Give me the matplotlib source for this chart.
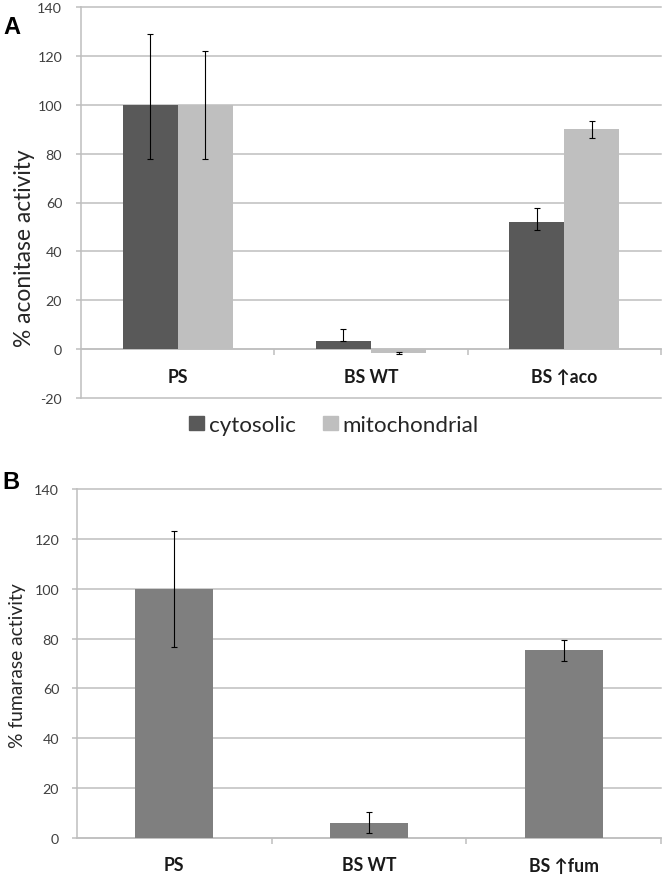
import matplotlib
matplotlib.use('Agg')
import matplotlib.pyplot as plt
from matplotlib.patches import Patch
import numpy as np

plt.rcParams['font.family'] = ['Lato', 'DejaVu Sans']
plt.rcParams['axes.unicode_minus'] = False

# ---- data ----
cats_A = ['PS', 'BS WT', 'BS \u2191aco']
cyt = [100, 3.5, 52]
cyt_err_lo = [22, 0.3, 3.3]
cyt_err_up = [29, 4.6, 5.7]
mito = [100, -1.5, 90]
mito_err_lo = [22, 0.3, 3.6]
mito_err_up = [22, 0.3, 3.3]

cats_B = ['PS', 'BS WT', 'BS \u2191fum']
fum = [100, 6.2, 75.3]
fum_err_lo = [23.3, 4.1, 4.2]
fum_err_up = [23.3, 4.2, 4.3]

GRID = '#BFBFBF'
TXT = '#404040'
DPI = 100
W, H = 666, 878

fig = plt.figure(figsize=(W / DPI, H / DPI), dpi=DPI)
renderer = fig.canvas.get_renderer()


def fit_size(s, target_px, **kw):
    """font size (pt) so that string s is target_px wide"""
    t = fig.text(0, 0, s, fontsize=10, **kw)
    w = t.get_window_extent(renderer).width
    t.remove()
    return 10 * target_px / w


tick_fs = fit_size('140', 25)
cat_fs = fit_size('BS WT', 55, fontweight='bold')
leg_fs = fit_size('cytosolic', 87)
ylabA_fs = fit_size('% aconitase activity', 197)
ylabB_fs = fit_size('% fumarase activity', 165)
let_fs = fit_size('A', 17, fontweight='bold', family='Liberation Sans')

axA = fig.add_axes([81 / W, 1 - 399 / H, 580 / W, 391 / H])
axB = fig.add_axes([77 / W, 1 - 839 / H, 584 / W, 349 / H])

ekw = dict(ecolor='black', elinewidth=0.8, capsize=2.5, capthick=0.8)

x = np.arange(3)
w = 0.285
axA.bar(x - w / 2, cyt, w, color='#595959', yerr=[cyt_err_lo, cyt_err_up],
        error_kw=ekw, zorder=3)
axA.bar(x + w / 2, mito, w, color='#BFBFBF', yerr=[mito_err_lo, mito_err_up],
        error_kw=ekw, zorder=3)

wb = 0.40
axB.bar(x, fum, wb, color='#7F7F7F', yerr=[fum_err_lo, fum_err_up],
        error_kw=ekw, zorder=3)


def style(ax, ymin, cats, ypad):
    ax.set_xlim(-0.5, 2.5)
    ax.set_ylim(ymin, 140)
    ax.set_yticks(np.arange(ymin, 141, 20))
    ax.set_axisbelow(True)
    ax.yaxis.grid(True, color=GRID, lw=1.1, zorder=0)
    for g in ax.yaxis.get_gridlines():
        g.set_clip_on(False)
    for s in ['top', 'right']:
        ax.spines[s].set_visible(False)
    ax.spines['left'].set_color(GRID)
    ax.spines['left'].set_linewidth(1.1)
    ax.spines['bottom'].set_position(('data', 0))
    ax.spines['bottom'].set_color(GRID)
    ax.spines['bottom'].set_linewidth(1.1)
    ax.set_xticks(x)
    ax.set_xticklabels(cats, fontsize=cat_fs, fontweight='bold', color='#1a1a1a')
    for lab in ax.get_xticklabels():
        lab.set_va('center')
    ax.set_xticks([0.5, 1.5, 2.5], minor=True)
    ax.tick_params(axis='x', which='major', length=0, pad=27 * 72 / DPI)
    ax.tick_params(axis='x', which='minor', length=4.5, color=GRID, width=1.1,
                   direction='out')
    ax.tick_params(axis='y', length=3.5, color=GRID, width=1.1,
                   pad=ypad * 72 / DPI, labelsize=tick_fs, labelcolor=TXT)


style(axA, -20, cats_A, 14)
style(axB, 0, cats_B, 13)

fig.text(25 / W, 1 - 248 / H, '% aconitase activity', rotation=90,
         ha='center', va='center', fontsize=ylabA_fs, color='#262626')
fig.text(18 / W, 1 - 666 / H, '% fumarase activity', rotation=90,
         ha='center', va='center', fontsize=ylabB_fs, color='#262626')

lf_px = leg_fs * DPI / 72
handles = [Patch(color='#595959', label='cytosolic'),
           Patch(color='#BFBFBF', label='mitochondrial')]
fig.legend(handles=handles, loc='center', bbox_to_anchor=(334 / W, 1 - 426 / H),
           ncol=2, frameon=False, fontsize=leg_fs,
           handlelength=15 / lf_px, handleheight=12 / lf_px,
           handletextpad=5 / lf_px, columnspacing=27 / lf_px,
           borderaxespad=0, borderpad=0, labelcolor='#262626')

fig.text(12 / W, 1 - 27 / H, 'A', ha='center', va='center', fontsize=let_fs,
         fontweight='bold', family='Liberation Sans')
fig.text(11 / W, 1 - 483 / H, 'B', ha='center', va='center', fontsize=let_fs,
         fontweight='bold', family='Liberation Sans')

fig.savefig('out.png', dpi=DPI)
